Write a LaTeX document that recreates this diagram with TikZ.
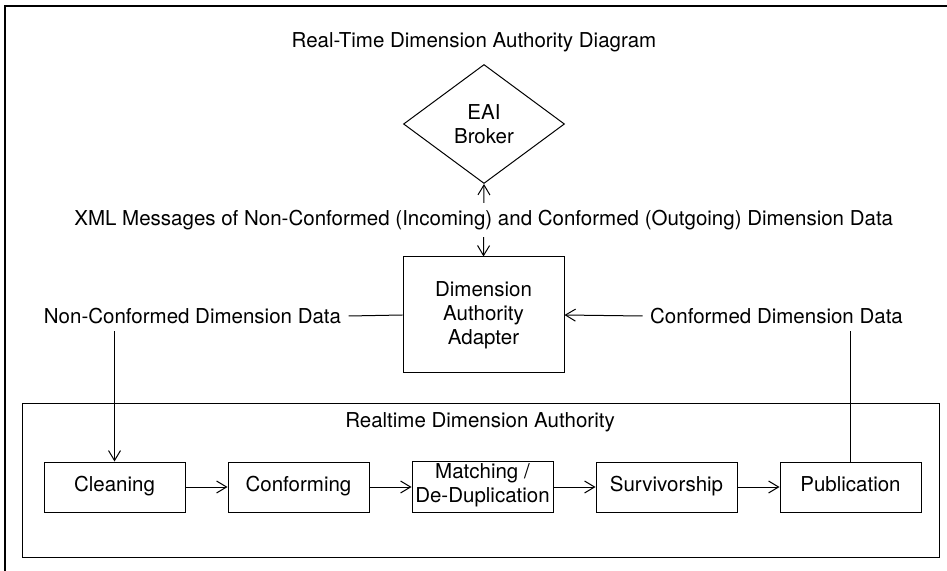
\documentclass[tikz,border=0pt]{standalone}
\usepackage{fontspec}
\setmainfont{TeX Gyre Heros}
\usetikzlibrary{shapes.geometric, arrows.meta, positioning}

\begin{document}
\begin{tikzpicture}[
    x=0.5pt, y=-0.5pt,
    font=\fontsize{10.25}{12}\selectfont,
    line width=0.5pt,
    arr/.style={-{Straight Barb[length=5pt, width=6pt]}},
    dblarr/.style={{Straight Barb[length=5pt, width=6pt]}-{Straight Barb[length=5pt, width=6pt]}},
    stepbox/.style={draw, minimum width=70.5pt, minimum height=25pt, inner sep=1pt, align=center, execute at begin node=\strut},
    adapterbox/.style={draw, minimum width=80.5pt, minimum height=58pt, align=center},
    broker/.style={draw, diamond, minimum width=80.5pt, minimum height=59.5pt, inner sep=0pt, align=center},
    lbl/.style={inner sep=3.5pt}
]
\useasboundingbox (0,0) rectangle (947,571);
% page frame
\draw[line width=1pt] (5,571) -- (5,6) -- (947,6);

\node[lbl] (title) at (474,42) {Real-Time Dimension Authority Diagram};
\node[broker] (eai) at (484,124) {EAI\\Broker};
\node[adapterbox] (adapter) at (483.5,315) {Dimension\\Authority\\Adapter};
\node[lbl] (nonconf) at (192.5,316) {Non-Conformed Dimension Data};
\node[lbl] (conf) at (776.5,316) {Conformed Dimension Data};

% realtime container
\node[draw, minimum width=458.5pt, minimum height=77pt] (rda) at (480.5,480) {};
\node[lbl] (rdalbl) at (480,422) {Realtime Dimension Authority};

\node[stepbox] (clean) at (114.5,487) {Cleaning};
\node[stepbox, right=21pt of clean] (conform) {Conforming};
\node[stepbox, right=21pt of conform] (match) {Matching /\\De-Duplication};
\node[stepbox, right=21pt of match] (surv) {Survivorship};
\node[stepbox, right=21pt of surv] (pub) {Publication};

\draw[dblarr] (eai.south) -- node[fill=white, lbl] (xml) {XML Messages of Non-Conformed (Incoming) and Conformed (Outgoing) Dimension Data} (adapter.north);
\draw (nonconf.east) -- (adapter.west);
\draw[arr] (conf.west) -- (adapter.east);
\draw[arr] (nonconf.south -| clean.north) -- (clean.north);
\draw (pub.north) -- (conf.south -| pub.north);

\draw[arr] (clean) -- (conform);
\draw[arr] (conform) -- (match);
\draw[arr] (match) -- (surv);
\draw[arr] (surv) -- (pub);
\end{tikzpicture}
\end{document}
